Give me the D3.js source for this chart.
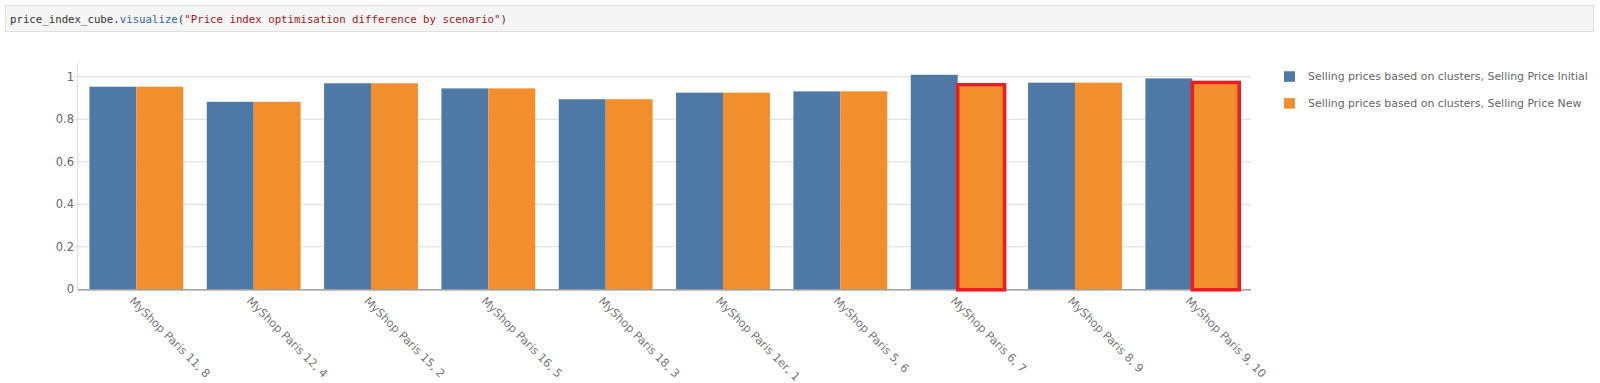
<!DOCTYPE html>
<html><head><meta charset="utf-8">
<script src="https://cdn.jsdelivr.net/npm/d3@7"></script>
<style>
html,body{margin:0;padding:0;background:#fff;}
svg{display:block;}
</style></head>
<body>
<svg id="c" width="1600" height="383"></svg>
<script>
const categories = ["MyShop Paris 11, 8","MyShop Paris 12, 4","MyShop Paris 15, 2","MyShop Paris 16, 5","MyShop Paris 18, 3","MyShop Paris 1er, 1","MyShop Paris 5, 6","MyShop Paris 6, 7","MyShop Paris 8, 9","MyShop Paris 9, 10"];
const initialValues = [0.953,0.882,0.969,0.945,0.894,0.925,0.931,1.009,0.972,0.992];
const newValues     = [0.953,0.882,0.969,0.945,0.894,0.925,0.931,0.955,0.972,0.966];
const seriesNames = ["Selling prices based on clusters, Selling Price Initial","Selling prices based on clusters, Selling Price New"];
const yTicks = [0,0.2,0.4,0.6,0.8,1];
const yTickLabels = ["0","0.2","0.4","0.6","0.8","1"];
const highlighted = ["MyShop Paris 6, 7","MyShop Paris 9, 10"];
const codeLine = [["price_index_cube.","#333"],["visualize","#336699"],["(","#333"],["\"Price index optimisation difference by scenario\"","#a31515"],[")","#333"]];

const colors = ["#4e79a7","#f28e2b"];
const svg = d3.select("#c");

// code cell
svg.append("rect").attr("x",5.5).attr("y",5.5).attr("width",1588).attr("height",26)
  .attr("fill","#f5f5f5").attr("stroke","#e0e0e0");
const ct = svg.append("text").attr("x",10).attr("y",22.5)
  .attr("font-family","'DejaVu Sans Mono', 'Liberation Mono', monospace").attr("font-size",10.8);
codeLine.forEach(([t,c])=>ct.append("tspan").attr("fill",c).text(t));
// fit code text width to reference
const cw = ct.node().getComputedTextLength();
ct.attr("font-size",10.8*497/cw);

const x0 = d3.scaleBand().domain(categories).range([77.7,1251]).paddingInner(0.2).paddingOuter(0.1);
const x1 = d3.scaleBand().domain([0,1]).range([0,x0.bandwidth()]);
const y = d3.scaleLinear().domain([0,1]).range([289.3,76.7]);

// gridlines
svg.append("g").selectAll("line").data(yTicks.filter(d=>d>0)).join("line")
  .attr("x1",74).attr("x2",1251).attr("y1",d=>y(d)).attr("y2",d=>y(d))
  .attr("stroke","#dcdcdc").attr("stroke-width",1);
// y axis line
svg.append("line").attr("x1",77.7).attr("x2",77.7).attr("y1",y(1.064)).attr("y2",y(0))
  .attr("stroke","#dcdcdc");

// y tick labels
svg.append("g").selectAll("text").data(yTicks).join("text")
  .attr("x",74).attr("y",d=>y(d)).attr("dy","0.35em").attr("text-anchor","end")
  .attr("font-family","'DejaVu Sans', sans-serif").attr("font-size",11.5).attr("fill","#666")
  .text((d,i)=>yTickLabels[i]);

// bars
const series = [initialValues,newValues];
const g = svg.append("g");
categories.forEach((c,i)=>{
  series.forEach((vals,s)=>{
    g.append("rect").attr("x",x0(c)+x1(s)).attr("width",x1.bandwidth())
      .attr("y",y(vals[i])).attr("height",y(0)-y(vals[i])).attr("fill",colors[s]);
  });
});

// x axis line
svg.append("line").attr("x1",77.7).attr("x2",1251).attr("y1",y(0)+0.5).attr("y2",y(0)+0.5)
  .attr("stroke","#888").attr("stroke-width",1.2);

// highlight boxes
categories.forEach((c,i)=>{
  if(highlighted.includes(c)){
    const bx = x0(c)+x1(1), bw = x1.bandwidth();
    svg.append("rect").attr("x",bx).attr("y",y(newValues[i])-1.5).attr("width",bw).attr("height",y(0)-y(newValues[i])+2)
      .attr("fill","none").attr("stroke","#ec1c24").attr("stroke-width",3.5);
  }
});

// x labels
svg.append("g").selectAll("text").data(categories).join("text")
  .attr("transform",d=>`translate(${x0(d)+x0.bandwidth()/2-2},${296}) rotate(45)`)
  .attr("font-family","'DejaVu Sans', sans-serif").attr("font-size",11.4).attr("fill","#777")
  .attr("dy","0.7em")
  .text(d=>d);

// legend
const lg = svg.append("g");
seriesNames.forEach((n,i)=>{
  lg.append("rect").attr("x",1284).attr("y",71.3+i*26.8).attr("width",11).attr("height",10.5).attr("fill",colors[i]);
  lg.append("text").attr("x",1308).attr("y",76.5+i*26.8).attr("dy","0.35em")
    .attr("font-family","'DejaVu Sans', sans-serif").attr("font-size",11).attr("fill","#666").text(n);
});
const lt = lg.selectAll("text").nodes();
const w0 = lt[0].getComputedTextLength();
lg.selectAll("text").attr("font-size",11*280/w0);
</script>
</body></html>
